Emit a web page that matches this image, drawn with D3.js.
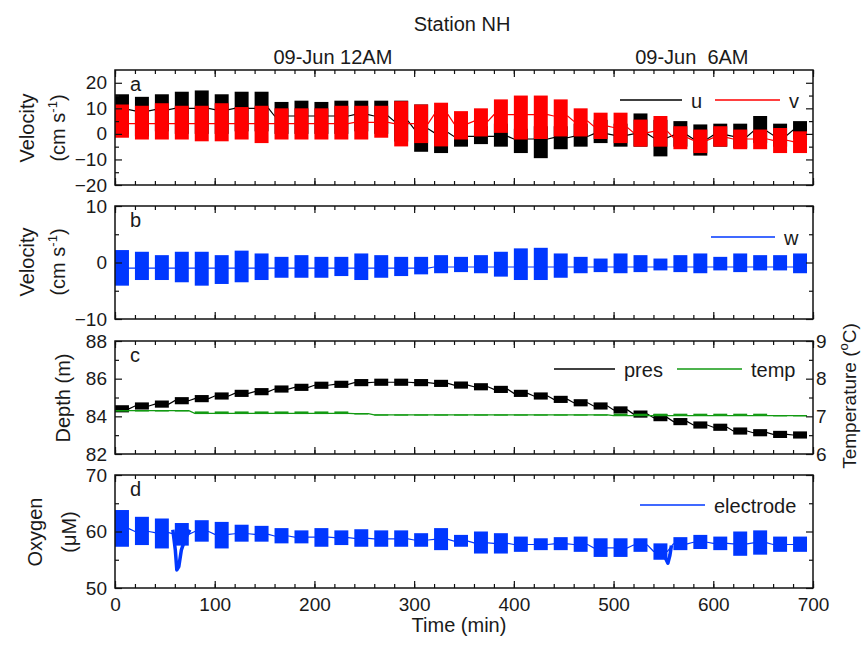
<!DOCTYPE html>
<html>
<head>
<meta charset="utf-8">
<script src="https://cdn.jsdelivr.net/npm/d3@7"></script>
<style>
  body { margin: 0; background: #fff; }
  svg text { font-family: "Liberation Sans", Arial, sans-serif; fill: #1a1a1a; }
</style>
</head>
<body>
<svg id="chart"></svg>
<script>
// sampling bursts: start time (min), each burst lasts about 14 min
const burstStart = [0, 20, 40, 60, 80, 100, 120, 140, 160, 180, 200, 220, 240, 260, 280, 300, 320, 340,
                    360, 380, 400, 420, 440, 460, 480, 500, 520, 540, 560, 580, 600, 620, 640, 660, 680];
const burstLength = 14;

// panel a: u (black) and v (red), cm/s - burst low / high / level of the joining line
const uHi  = [15.5, 14.5, 15.5, 16.5, 17, 15.5, 16.5, 16.5, 12.5, 13, 12.5, 13, 13, 13, 13, 11.5, 9, 4, 3, 4, 2, 3, 3, 4, 5.5, 4, 8, 5.5, 5, 3.7, 4, 4, 7, 4, 5];
const uLo  = [0, -1, 1, 0, 0, 0, 1, 1, 0, 0, 0, 0, 1, 0, -3, -7, -7.5, -5, -4, -5, -7.5, -9.5, -6, -5, -3.6, -5, -5, -8.8, -5, -8.5, -5, -5.5, -3.6, -5, -2];
const uMid = [9.5, 9, 9.5, 10, 10, 9.5, 10, 10, 7, 7, 7, 7, 7.5, 7, 5, 2, 0.5, -1, -1, -1, -2, -2, -1.5, -1, 0, -0.5, 0, -1.5, -0.5, -2, -0.5, -1, 1, -0.5, 1.5];
const vHi  = [11.5, 11, 12, 11, 11, 12, 10.5, 11, 10, 10, 10, 11, 11, 11, 12.8, 11.5, 12.2, 8.9, 10, 13.5, 15, 15, 13.5, 10, 8.3, 8.3, 5.6, 7, 3, 1.7, 3, 1.7, 1.7, 2.3, 1];
const vLo  = [-1.5, -2.2, -2.2, -2.2, -2.9, -2.9, -2.2, -3.6, -2.2, -2.2, -2.2, -2.2, -2.2, -1.5, -4.9, -3.6, -4.9, -2.2, -1, 0.4, -2.2, -2, -1, -1, -2, -3.6, -5, -5, -6, -7.5, -5, -6, -6, -7.5, -7.5];
const vMid = [4, 4, 4, 4, 4, 4, 4, 4, 4, 4, 4, 4, 4.5, 4.5, 4, 4, 7.5, 4, 5, 7.5, 7.5, 7.5, 7, 5, 3, 2.5, 0.5, 1, -1.5, -2.5, -1.5, -2, -2, -2.5, -3];

// panel b: w (blue), cm/s
const wHi  = [2.2, 1.9, 1.3, 1.9, 1.9, 1.3, 2.1, 1.6, 1, 1.3, 1, 1, 1.6, 1.3, 1, 1, 1.3, 1, 1.3, 1.9, 2.5, 2.6, 1.6, 1, 0.7, 1.6, 1.3, 0.7, 1.3, 1.6, 1, 1.6, 1.3, 1.3, 1.6];
const wLo  = [-4.1, -3.1, -3.1, -3.5, -4.1, -3.8, -3.5, -3.1, -2.7, -2.7, -2.7, -2.4, -3.1, -2.7, -2.4, -2.1, -1.9, -1.7, -1.9, -2.5, -3.1, -3.1, -2.7, -1.9, -1.7, -1.9, -1.7, -1.4, -1.7, -1.9, -1.4, -1.7, -1.4, -1.4, -1.9];
const wMid = [-1, -1, -1, -1, -1, -1, -1, -1, -1, -1, -1, -1, -1, -1, -1, -1, -0.8, -0.8, -0.8, -0.8, -0.8, -0.8, -0.8, -0.8, -0.8, -0.8, -0.8, -0.8, -0.8, -0.8, -0.8, -0.8, -0.8, -0.8, -0.8];

// panel c: pressure depth (m) and temperature (deg C)
const presLo  = [84.21, 84.36, 84.46, 84.64, 84.75, 84.89, 85.03, 85.12, 85.26, 85.35, 85.46, 85.51, 85.60, 85.62, 85.62, 85.60, 85.56, 85.47, 85.38, 85.24, 85.03, 84.89, 84.71, 84.53, 84.36, 84.15, 83.93, 83.74, 83.53, 83.35, 83.23, 83.03, 82.94, 82.85, 82.82];
const presHi  = [84.59, 84.74, 84.84, 85.02, 85.13, 85.27, 85.41, 85.50, 85.64, 85.73, 85.84, 85.89, 85.98, 86.00, 86.00, 85.98, 85.94, 85.85, 85.76, 85.62, 85.41, 85.27, 85.09, 84.91, 84.74, 84.53, 84.31, 84.12, 83.91, 83.73, 83.61, 83.41, 83.32, 83.23, 83.20];
const presMid = [84.40, 84.55, 84.65, 84.83, 84.94, 85.08, 85.22, 85.31, 85.45, 85.54, 85.65, 85.70, 85.79, 85.81, 85.81, 85.79, 85.75, 85.66, 85.57, 85.43, 85.22, 85.08, 84.90, 84.72, 84.55, 84.34, 84.12, 83.93, 83.72, 83.54, 83.42, 83.22, 83.13, 83.04, 83.01];
const tempLo  = [7.14, 7.14, 7.14, 7.14, 7.06, 7.06, 7.06, 7.06, 7.06, 7.06, 7.06, 7.06, 7.05, 7.03, 7.03, 7.03, 7.03, 7.03, 7.03, 7.03, 7.03, 7.03, 7.03, 7.03, 7.03, 7.02, 7.02, 7.02, 7.02, 7.02, 7.02, 7.02, 7.02, 7.01, 7.01];
const tempHi  = [7.16, 7.16, 7.16, 7.16, 7.13, 7.13, 7.13, 7.13, 7.13, 7.13, 7.13, 7.13, 7.08, 7.05, 7.05, 7.05, 7.05, 7.05, 7.05, 7.05, 7.05, 7.05, 7.05, 7.05, 7.05, 7.07, 7.07, 7.07, 7.07, 7.07, 7.07, 7.07, 7.07, 7.03, 7.03];
const tempMid = [7.15, 7.15, 7.15, 7.15, 7.08, 7.08, 7.08, 7.08, 7.08, 7.08, 7.08, 7.08, 7.07, 7.04, 7.04, 7.04, 7.04, 7.04, 7.04, 7.04, 7.04, 7.04, 7.04, 7.04, 7.04, 7.02, 7.02, 7.02, 7.02, 7.02, 7.02, 7.02, 7.02, 7.02, 7.02];

// panel d: oxygen electrode (uM)
const o2Hi  = [63.8, 62.6, 62.3, 61.5, 62, 61.7, 61.2, 61, 60.6, 60.2, 60.6, 60.2, 60.4, 60.2, 60.2, 59.7, 60.6, 59.4, 60, 59.7, 59.1, 58.8, 59, 59.1, 58.8, 58.8, 58.8, 57.9, 59, 59.4, 59.1, 60, 60.2, 59.1, 59.1];
const o2Lo  = [57.3, 57.6, 57, 57.5, 58.2, 57, 58.2, 58.2, 57.9, 57.9, 57.3, 57.6, 57.3, 57.3, 57.3, 57.3, 56.7, 57.3, 56.1, 56.1, 56.4, 56.7, 56.7, 56.4, 55.5, 55.5, 56.4, 55, 56.7, 56.9, 56.7, 55.7, 55.9, 56.4, 56.4];
const o2Mid = [60.5, 60, 59.8, 59.5, 60, 59.5, 59.6, 59.5, 59.2, 59, 59, 58.9, 58.8, 58.7, 58.7, 58.5, 58.6, 58.3, 58, 57.9, 57.7, 57.7, 57.8, 57.7, 57.1, 57.1, 57.6, 56.5, 57.8, 58.1, 57.9, 57.8, 58, 57.7, 57.7];
// two short drops of the electrode signal
const o2DipT  = [58, 60.5, 62, 64, 66.5, 70, 75];
const o2DipV  = [60.3, 56.7, 53.2, 53.8, 56.7, 58.5, 60.3];
const o2Dip2T = [548, 552, 554.5, 556.5, 558];
const o2Dip2V = [56.5, 55.3, 54.4, 55.8, 57.5];

// axes
const xMajor = [0, 100, 200, 300, 400, 500, 600, 700];
const xMinor = [0, 20, 40, 60, 80, 100, 120, 140, 160, 180, 200, 220, 240, 260, 280, 300, 320, 340,
                360, 380, 400, 420, 440, 460, 480, 500, 520, 540, 560, 580, 600, 620, 640, 660, 680, 700];
const dateTickTimes  = [218.5, 578.5];
const dateTickLabels = ["09-Jun 12AM", "09-Jun  6AM"];

const W = 862, H = 646;
const left = 115, right = 813;
const FONT = 20;
const black = "#000", red = "#ff0000", blue = "#0037ff", green = "#139a13";

const svg = d3.select("#chart").attr("width", W).attr("height", H).attr("viewBox", [0, 0, W, H]);

const x = d3.scaleLinear([0, 700], [left, right]);

function clean(sel, size) {
    sel.select(".domain").remove();
    sel.selectAll("line").attr("stroke", "#111").attr("stroke-width", 1.2);
    sel.selectAll("text").attr("font-size", size || 19).attr("fill", "#1a1a1a")
        .attr("font-family", "Liberation Sans, Arial, sans-serif");
}

function frame(box, y, major, minor, showX) {
    const g = svg.append("g");
    g.append("g").attr("transform", `translate(0,${box.bottom})`)
        .call(d3.axisBottom(x).tickValues(xMinor).tickSize(-4).tickFormat("")).call(clean);
    g.append("g").attr("transform", `translate(0,${box.bottom})`)
        .call(d3.axisBottom(x).tickValues(xMajor).tickSize(-7).tickPadding(10)
            .tickFormat(showX ? d3.format("d") : "")).call(clean);
    g.append("g").attr("transform", `translate(0,${box.top})`)
        .call(d3.axisTop(x).tickValues(xMinor).tickSize(-4).tickFormat("")).call(clean);
    g.append("g").attr("transform", `translate(0,${box.top})`)
        .call(d3.axisTop(x).tickValues(xMajor).tickSize(-7).tickFormat("")).call(clean);
    g.append("g").attr("transform", `translate(${left},0)`)
        .call(d3.axisLeft(y).tickValues(major).tickSize(-7).tickPadding(8).tickFormat(d3.format("d"))).call(clean);
    g.append("g").attr("transform", `translate(${left},0)`)
        .call(d3.axisLeft(y).tickValues(minor).tickSize(-4).tickFormat("")).call(clean);
    g.append("rect").attr("x", left).attr("y", box.top)
        .attr("width", right - left).attr("height", box.bottom - box.top)
        .attr("fill", "none").attr("stroke", "#111").attr("stroke-width", 1.5);
    return g;
}

function rightTicks(box, y, major, minor, labels) {
    const g = svg.append("g");
    g.append("g").attr("transform", `translate(${right},0)`)
        .call(d3.axisRight(y).tickValues(major).tickSize(-7).tickPadding(3)
            .tickFormat(labels ? d3.format("d") : "")).call(clean);
    g.append("g").attr("transform", `translate(${right},0)`)
        .call(d3.axisRight(y).tickValues(minor).tickSize(-4).tickFormat("")).call(clean);
}

function clipFor(id, box) {
    svg.append("clipPath").attr("id", id).append("rect")
        .attr("x", left).attr("y", box.top).attr("width", right - left).attr("height", box.bottom - box.top);
    return svg.append("g").attr("clip-path", `url(#${id})`);
}

function bursts(g, y, lo, hi, mid, color) {
    const pts = burstStart.flatMap((t, i) => [[t, mid[i]], [t + burstLength, mid[i]]]);
    g.append("path").attr("d", d3.line().x(d => x(d[0])).y(d => y(d[1]))(pts))
        .attr("fill", "none").attr("stroke", color).attr("stroke-width", 1.2);
    g.selectAll(null).data(burstStart).join("rect")
        .attr("x", t => x(t))
        .attr("width", t => x(t + burstLength) - x(t))
        .attr("y", (t, i) => y(hi[i]))
        .attr("height", (t, i) => Math.max(1.2, y(lo[i]) - y(hi[i])))
        .attr("fill", color);
}

function dip(g, y, ts, vs, color) {
    g.append("path").attr("d", d3.line().x(d => x(d[0])).y(d => y(d[1]))(ts.map((t, i) => [t, vs[i]])))
        .attr("fill", "none").attr("stroke", color).attr("stroke-width", 3.5).attr("stroke-linejoin", "round");
}

function yLabel(cx, cy, parts, size) {
    const t = svg.append("text").attr("transform", `translate(${cx},${cy}) rotate(-90)`)
        .attr("text-anchor", "middle").attr("dy", "0.35em").attr("font-size", size || FONT);
    parts.forEach(p => {
        const s = t.append("tspan").text(p.text);
        if (p.sup) s.attr("font-size", 13).attr("dy", -8);
        if (p.after) s.attr("dy", 8);
    });
}

function panelLetter(box, s) {
    svg.append("text").attr("x", 130).attr("y", box.top + 21).attr("font-size", FONT).text(s);
}

function legend(items, ly) {
    items.forEach(it => {
        svg.append("line").attr("x1", it.x1).attr("x2", it.x2).attr("y1", ly).attr("y2", ly)
            .attr("stroke", it.color).attr("stroke-width", 1.5);
        svg.append("text").attr("x", it.x2 + 9).attr("y", ly + 8).attr("font-size", FONT).text(it.label);
    });
}

// ---- panel a
const boxA = {top: 70, bottom: 185};
const yA = d3.scaleLinear([-20, 25], [boxA.bottom, boxA.top]);
const gA = clipFor("clipA", boxA);
bursts(gA, yA, uLo, uHi, uMid, black);
bursts(gA, yA, vLo, vHi, vMid, red);
frame(boxA, yA, [-20, -10, 0, 10, 20], [-15, -5, 5, 15], false);
rightTicks(boxA, yA, [-20, -10, 0, 10, 20], [-15, -5, 5, 15], false);
panelLetter(boxA, "a");
legend([{x1: 620, x2: 682, color: black, label: "u"}, {x1: 715, x2: 780, color: red, label: "v"}], 100);
yLabel(27, 128, [{text: "Velocity"}]);
yLabel(58, 128, [{text: "(cm s"}, {text: "-1", sup: true}, {text: ")", after: true}]);

// ---- panel b
const boxB = {top: 206, bottom: 319};
const yB = d3.scaleLinear([-10, 10], [boxB.bottom, boxB.top]);
const gB = clipFor("clipB", boxB);
bursts(gB, yB, wLo, wHi, wMid, blue);
frame(boxB, yB, [-10, 0, 10], [-5, 5], false);
rightTicks(boxB, yB, [-10, 0, 10], [-5, 5], false);
panelLetter(boxB, "b");
legend([{x1: 711, x2: 775, color: blue, label: "w"}], 237);
yLabel(27, 262, [{text: "Velocity"}]);
yLabel(58, 262, [{text: "(cm s"}, {text: "-1", sup: true}, {text: ")", after: true}]);

// ---- panel c
const boxC = {top: 341, bottom: 454};
const yC = d3.scaleLinear([82, 88], [boxC.bottom, boxC.top]);
const yT = d3.scaleLinear([6, 9], [boxC.bottom, boxC.top]);
const gC = clipFor("clipC", boxC);
bursts(gC, yC, presLo, presHi, presMid, black);
bursts(gC, yT, tempLo, tempHi, tempMid, green);
frame(boxC, yC, [82, 84, 86, 88], [83, 85, 87], false);
rightTicks(boxC, yT, [6, 7, 8, 9], [6.5, 7.5, 8.5], true);
panelLetter(boxC, "c");
legend([{x1: 554, x2: 615, color: black, label: "pres"}, {x1: 677, x2: 742, color: green, label: "temp"}], 369);
yLabel(63, 398, [{text: "Depth (m)"}]);
yLabel(849, 396, [{text: "Temperature ("}, {text: "o", sup: true}, {text: "C)", after: true}], 19);

// ---- panel d
const boxD = {top: 475, bottom: 588};
const yD = d3.scaleLinear([50, 70], [boxD.bottom, boxD.top]);
const gD = clipFor("clipD", boxD);
bursts(gD, yD, o2Lo, o2Hi, o2Mid, blue);
dip(gD, yD, o2DipT, o2DipV, blue);
dip(gD, yD, o2Dip2T, o2Dip2V, blue);
frame(boxD, yD, [50, 60, 70], [55, 65], true);
rightTicks(boxD, yD, [50, 60, 70], [55, 65], false);
panelLetter(boxD, "d");
legend([{x1: 640, x2: 705, color: blue, label: "electrode"}], 505);
yLabel(35, 532, [{text: "Oxygen"}]);
yLabel(69, 532, [{text: "(\u03bcM)"}]);

// ---- titles
svg.append("text").attr("x", 462).attr("y", 31).attr("text-anchor", "middle").attr("font-size", FONT).text("Station NH");
svg.selectAll(null).data(dateTickTimes).join("text")
    .attr("x", d => x(d)).attr("y", 64).attr("text-anchor", "middle")
    .attr("font-size", FONT).style("white-space", "pre")
    .text((d, i) => dateTickLabels[i]);
svg.append("text").attr("x", 459).attr("y", 632).attr("text-anchor", "middle").attr("font-size", FONT).text("Time (min)");
</script>
</body>
</html>
